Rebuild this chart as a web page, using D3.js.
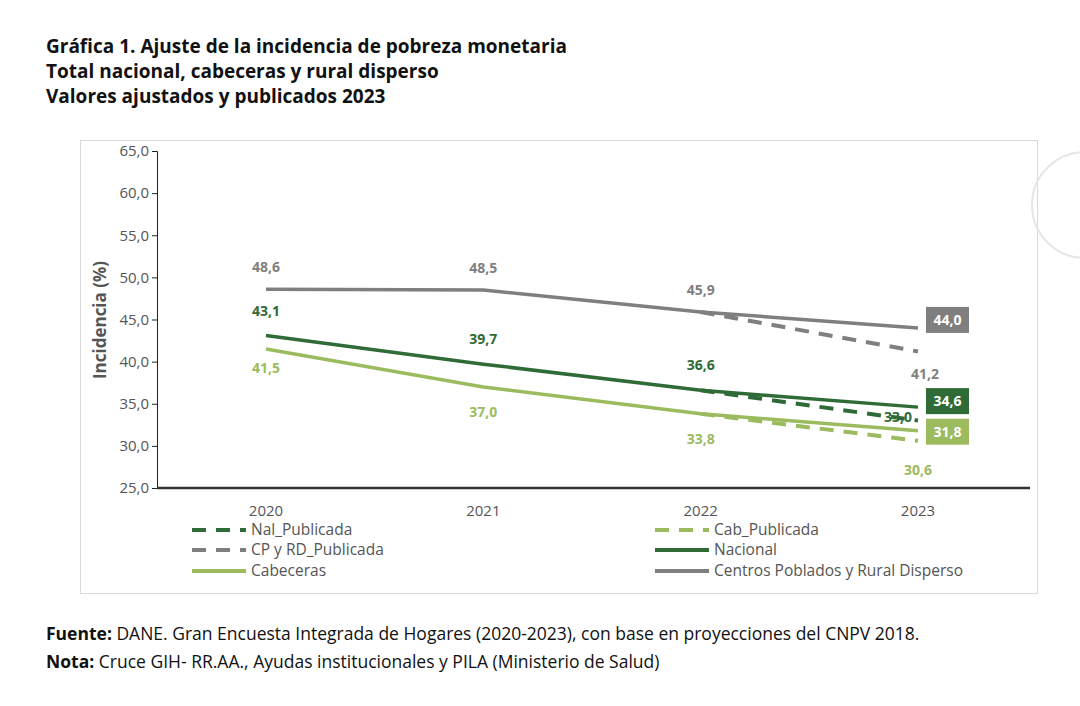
<!DOCTYPE html><html><head><meta charset="utf-8"><script src="https://d3js.org/d3.v7.min.js"></script>
<style>body{margin:0;background:#fff;font-family:"Open Sans",sans-serif}</style></head><body><svg id="c" width="1080" height="706"></svg>
<script>
const years=["2020","2021","2022","2023"];
const yTicks=[25,30,35,40,45,50,55,60,65];
const nacional=[43.1,39.7,36.6,34.6];
const nalPublicada=[43.1,39.7,36.6,33.0];
const cabeceras=[41.5,37.0,33.8,31.8];
const cabPublicada=[41.5,37.0,33.8,30.6];
const rural=[48.6,48.5,45.9,44.0];
const cpPublicada=[48.6,48.5,45.9,41.2];
const DG="#2f6b36",LG="#9cbb5f",GR="#7f7f7f";
const svg=d3.select("#c");
const fmt=v=>v.toFixed(1).replace(".",",");
["Gráfica 1. Ajuste de la incidencia de pobreza monetaria","Total nacional, cabeceras y rural disperso","Valores ajustados y publicados 2023"].forEach((t,i)=>
 svg.append("text").attr("x",46).attr("y",53+i*25).attr("font-size",19).attr("font-weight","bold").attr("fill","#111").text(t));
svg.append("rect").attr("x",80.5).attr("y",140.5).attr("width",957).attr("height",453).attr("fill","none").attr("stroke","#d9d9d9");
svg.append("circle").attr("cx",1085).attr("cy",205).attr("r",53).attr("fill","none").attr("stroke","#e6e6e6").attr("stroke-width",2);
const y=d3.scaleLinear().domain([25,65]).range([488,151]);
const x=d3.scalePoint().domain(years).range([266,918]);
const ya=svg.append("g").attr("transform","translate(157,0)").call(d3.axisLeft(y).tickValues(yTicks).tickFormat(fmt).tickSize(5));
ya.select(".domain").attr("stroke","#222");ya.selectAll("line").attr("stroke","#222");
ya.selectAll("text").attr("font-size",15).attr("fill","#555").attr("font-family","Open Sans");
svg.append("line").attr("x1",157).attr("x2",1030).attr("y1",488).attr("y2",488).attr("stroke","#333").attr("stroke-width",2.5);
years.forEach(d=>svg.append("text").attr("x",x(d)).attr("y",516).attr("text-anchor","middle").attr("font-size",15).attr("fill","#555").text(d));
svg.append("text").attr("transform","translate(106,320) rotate(-90)").attr("text-anchor","middle").attr("font-size",17).attr("font-weight","bold").attr("fill","#555").text("Incidencia (%)");
const line=d3.line().x((d,i)=>x(years[i])).y(d=>y(d));
const dashed=(data,c)=>svg.append("path")
 .attr("d",d3.line().x((d,i)=>x(years[i+2])).y(d=>y(d))(data.slice(2))).attr("fill","none").attr("stroke",c).attr("stroke-width",4).attr("stroke-dasharray","14,10");
dashed(cpPublicada,GR);dashed(nalPublicada,DG);dashed(cabPublicada,LG);
[[rural,GR],[nacional,DG],[cabeceras,LG]].forEach(([d,c])=>svg.append("path").attr("d",line(d)).attr("fill","none").attr("stroke",c).attr("stroke-width",3.5));
const lbl=(xx,yy,v,c)=>svg.append("text").attr("x",xx).attr("y",yy).attr("text-anchor","middle").attr("font-size",14).attr("font-weight","bold").attr("fill",c).text(fmt(v));
for(let i=0;i<3;i++){
 const xx=x(years[i]);
 lbl(xx,y(rural[i])-17,rural[i],GR);
 lbl(xx,y(nacional[i])-20,nacional[i],DG);
 lbl(xx,y(cabeceras[i])+(i==0?24:30),cabeceras[i],LG);
}
const x3=x("2023");
lbl(x3+7,y(cpPublicada[3])+27,cpPublicada[3],GR);
lbl(x3-20,y(nalPublicada[3])+1,nalPublicada[3],DG);
lbl(x3,y(cabPublicada[3])+34,cabPublicada[3],LG);
const box=(v,yy,c)=>{svg.append("rect").attr("x",x3+8).attr("y",y(v)+yy-13).attr("width",43).attr("height",26).attr("fill",c);
 svg.append("text").attr("x",x3+29.5).attr("y",y(v)+yy+5).attr("text-anchor","middle").attr("font-size",14).attr("font-weight","bold").attr("fill","#fff").text(fmt(v));};
box(rural[3],-8,GR);box(nacional[3],-6,DG);box(cabeceras[3],1,LG);
const leg=[["Nal_Publicada",DG,true,192,530],["Cab_Publicada",LG,true,655,530],["CP y RD_Publicada",GR,true,192,550],["Nacional",DG,false,655,550],["Cabeceras",LG,false,192,571],["Centros Poblados y Rural Disperso",GR,false,655,571]];
leg.forEach(([t,c,d,lx,ly])=>{svg.append("line").attr("x1",lx).attr("x2",lx+54).attr("y1",ly).attr("y2",ly).attr("stroke",c).attr("stroke-width",4).attr("stroke-dasharray",d?"14,10":null);
 svg.append("text").attr("x",lx+59).attr("y",ly+5).attr("font-size",15.5).attr("fill","#555").text(t);});
const note=(b,t,yy)=>{const e=svg.append("text").attr("x",46).attr("y",yy).attr("font-size",17.5).attr("fill","#111");e.append("tspan").attr("font-weight","bold").text(b);e.append("tspan").text(t);};
note("Fuente:"," DANE. Gran Encuesta Integrada de Hogares (2020-2023), con base en proyecciones del CNPV 2018.",640);
note("Nota:"," Cruce GIH- RR.AA., Ayudas institucionales y PILA (Ministerio de Salud)",668);
</script></body></html>
